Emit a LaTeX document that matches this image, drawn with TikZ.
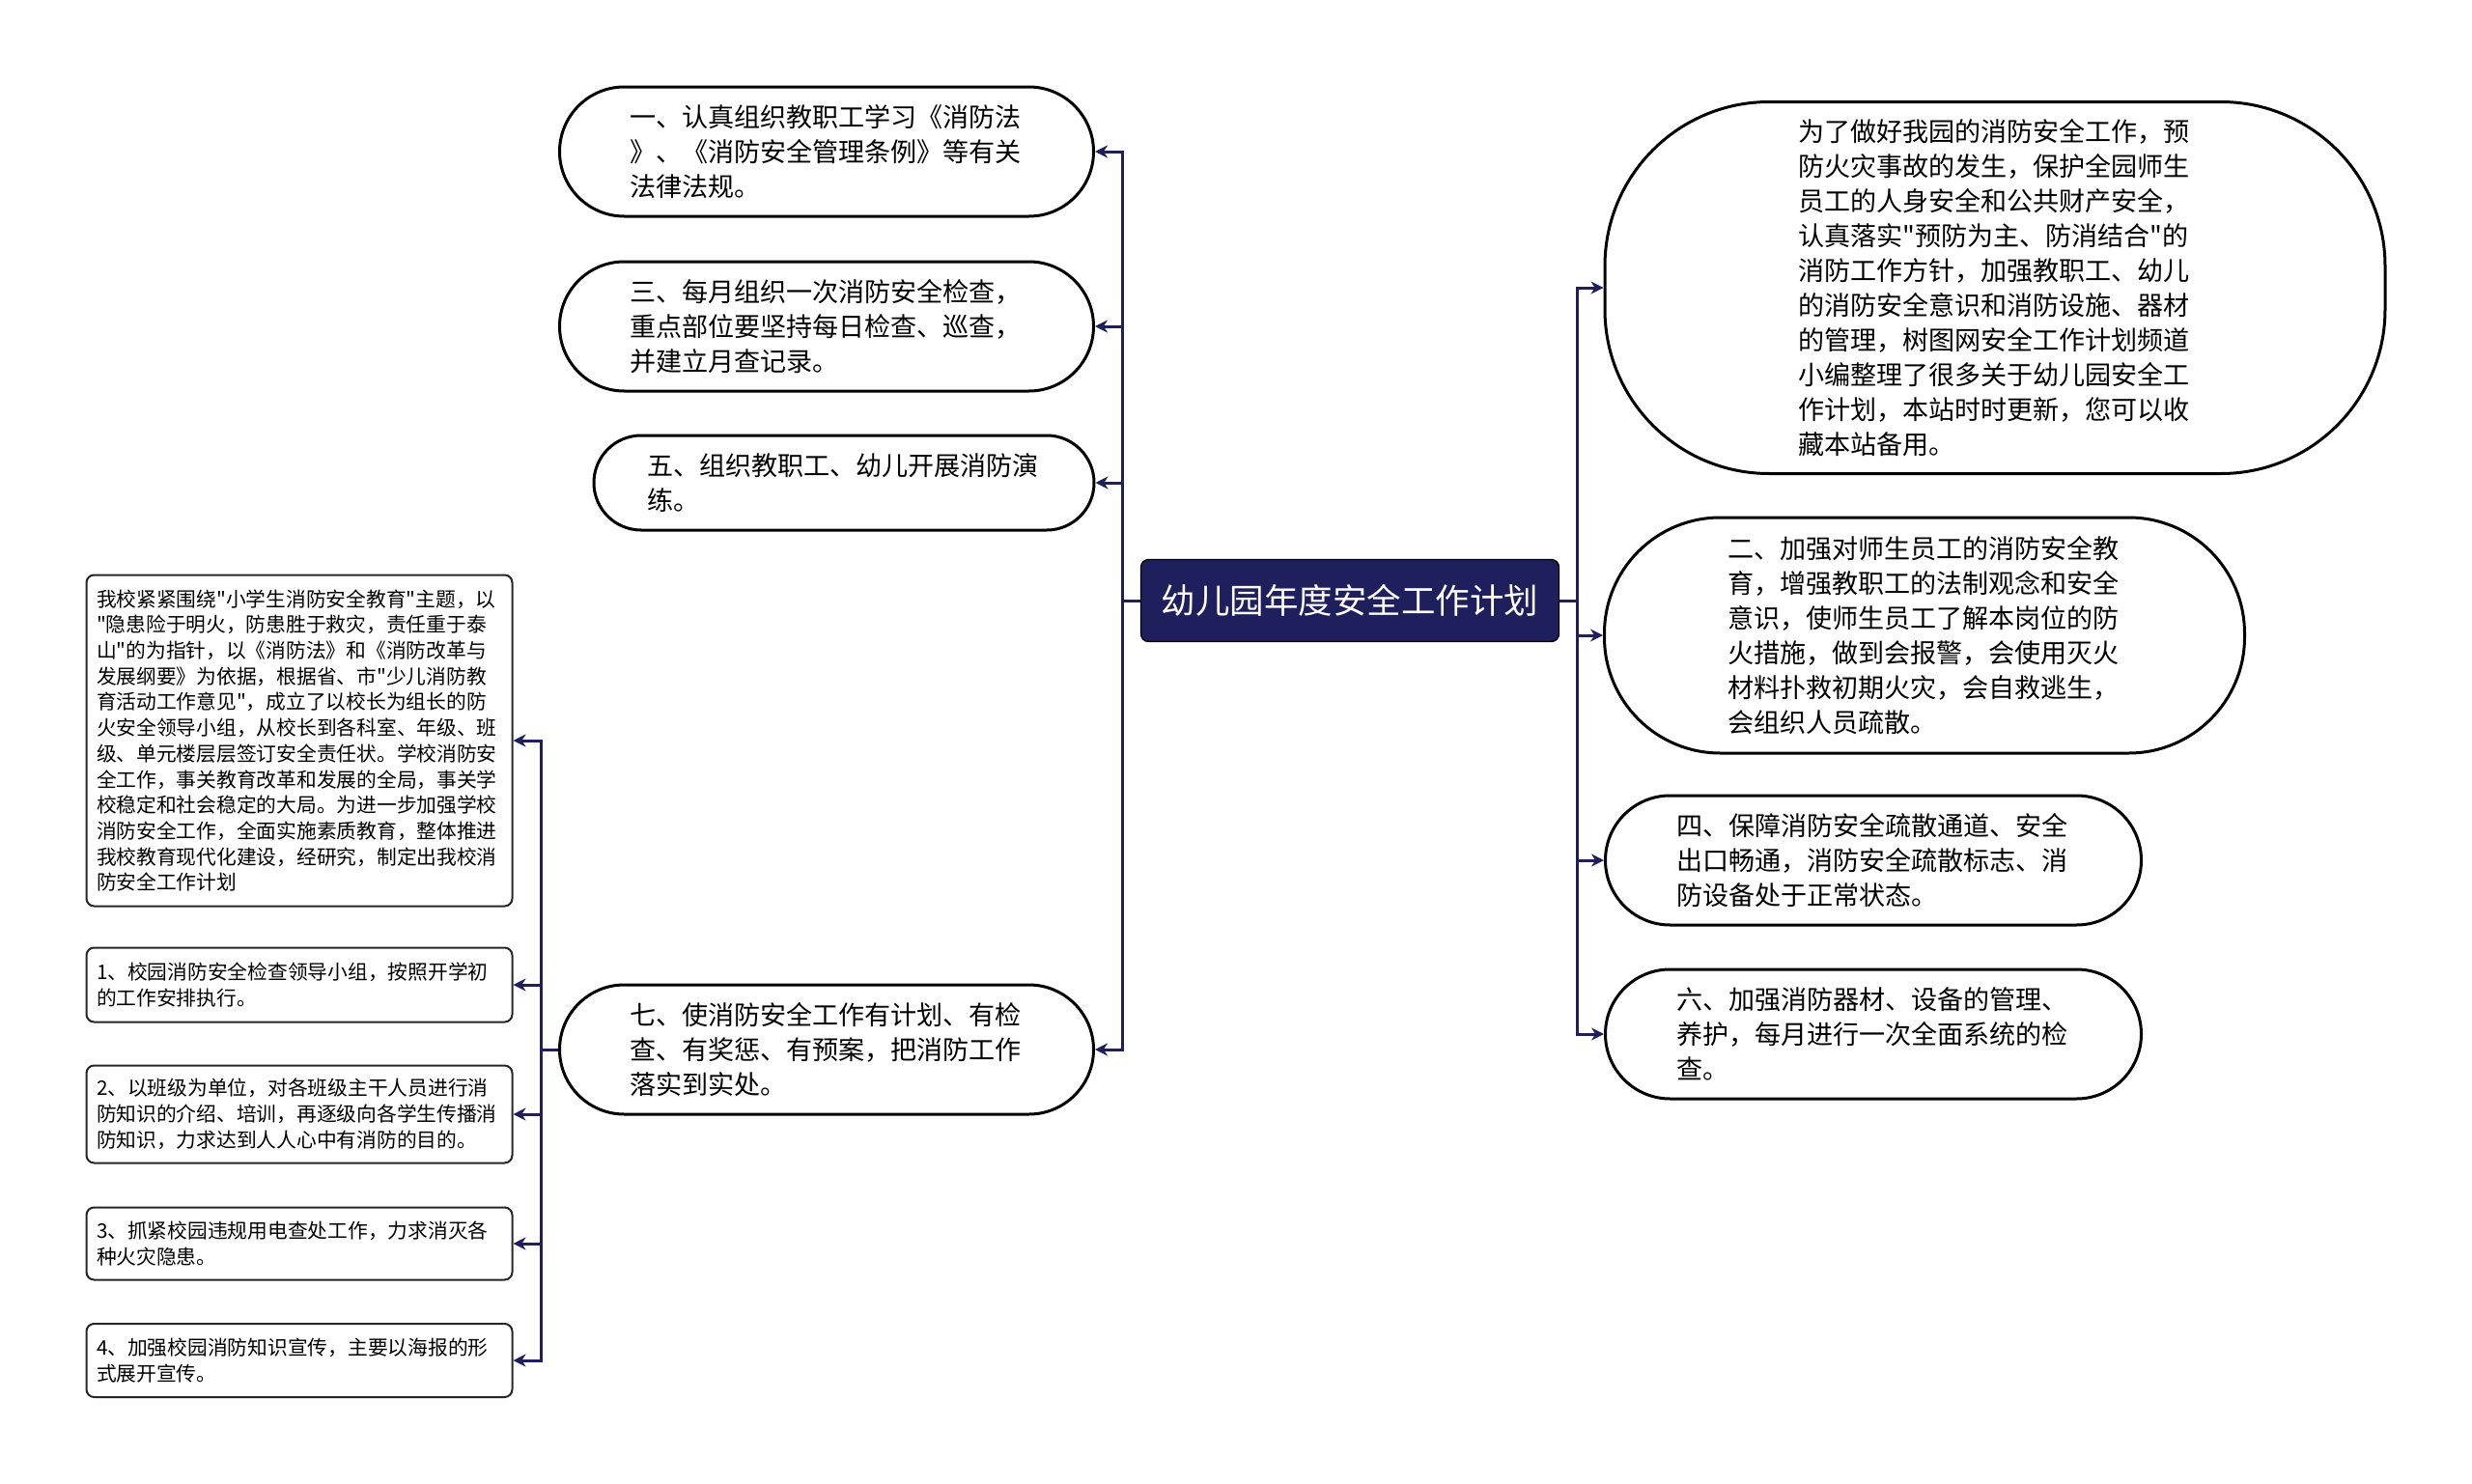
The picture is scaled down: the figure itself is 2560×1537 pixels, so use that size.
\documentclass[tikz,border=0pt]{standalone}
\usepackage{fontspec}
\setmainfont{Noto Sans CJK SC}[Ligatures=TeXOff]
\usetikzlibrary{arrows.meta,positioning}
\definecolor{plannavy}{HTML}{1E1F5C}

\begin{document}
\begin{tikzpicture}[x=0.1mm, y=-0.1mm,
    pill/.style={rectangle, draw=black, line width=0.3mm, fill=white,
        text width=40.8mm, align=left, inner sep=0mm,
        font=\fontsize{7.7pt}{10.24pt}\selectfont},
    note/.style={rectangle, rounded corners=0.8mm, draw=black!85, line width=0.2mm, fill=white,
        text width=42mm, align=left, minimum width=44.1mm, inner xsep=1.05mm, inner ysep=0mm,
        font=\fontsize{5.9pt}{7.6pt}\selectfont},
    link/.style={draw=plannavy, line width=0.3mm, -{Stealth[length=1.3mm,width=1.3mm]}}
]
\useasboundingbox (0,0) rectangle (2560,1537);

% Title
\node[rectangle, rounded corners=0.8mm, draw=black, fill=plannavy, text=white,
    minimum width=43.3mm, minimum height=8.5mm,
    font=\fontsize{10.1pt}{12pt}\selectfont] (plan) at (1398,622) {幼儿园年度安全工作计划};

% Left branch
\node[pill, minimum width=55.3mm, minimum height=13.4mm, rounded corners=6.7mm] (law) at (856,157) {一、认真组织教职工学习《消防法\\》、《消防安全管理条例》等有关\\法律法规。};
\node[pill, minimum width=55.3mm, minimum height=13.4mm, rounded corners=6.7mm] (check) at (856,338) {三、每月组织一次消防安全检查，\\重点部位要坚持每日检查、巡查，\\并建立月查记录。};
\node[pill, minimum width=51.8mm, minimum height=9.8mm, rounded corners=4.9mm] (drill) at (874,500) {五、组织教职工、幼儿开展消防演\\练。};
\node[pill, minimum width=55.3mm, minimum height=13.4mm, rounded corners=6.7mm] (duty) at (856,1087) {七、使消防安全工作有计划、有检\\查、有奖惩、有预案，把消防工作\\落实到实处。};

% Right branch
\node[pill, minimum width=80.8mm, minimum height=38.5mm, rounded corners=17mm] (intro) at (2066,298) {为了做好我园的消防安全工作，预\\防火灾事故的发生，保护全园师生\\员工的人身安全和公共财产安全，\\认真落实"预防为主、防消结合"的\\消防工作方针，加强教职工、幼儿\\的消防安全意识和消防设施、器材\\的管理，树图网安全工作计划频道\\小编整理了很多关于幼儿园安全工\\作计划，本站时时更新，您可以收\\藏本站备用。};
\node[pill, minimum width=66.3mm, minimum height=24.4mm, rounded corners=12mm] (edu) at (1993,658) {二、加强对师生员工的消防安全教\\育，增强教职工的法制观念和安全\\意识，使师生员工了解本岗位的防\\火措施，做到会报警，会使用灭火\\材料扑救初期火灾，会自救逃生，\\会组织人员疏散。};
\node[pill, minimum width=55.5mm, minimum height=13.4mm, rounded corners=6.7mm] (exits) at (1940,891) {四、保障消防安全疏散通道、安全\\出口畅通，消防安全疏散标志、消\\防设备处于正常状态。};
\node[pill, minimum width=55.5mm, minimum height=13.4mm, rounded corners=6.7mm] (gear) at (1940,1071) {六、加强消防器材、设备的管理、\\养护，每月进行一次全面系统的检\\查。};

% Notes under item seven
\node[note, minimum height=34.3mm] (basis) at (310,767) {我校紧紧围绕"小学生消防安全教育"主题，以\\"隐患险于明火，防患胜于救灾，责任重于泰\\山"的为指针，以《消防法》和《消防改革与\\发展纲要》为依据，根据省、市"少儿消防教\\育活动工作意见"，成立了以校长为组长的防\\火安全领导小组，从校长到各科室、年级、班\\级、单元楼层层签订安全责任状。学校消防安\\全工作，事关教育改革和发展的全局，事关学\\校稳定和社会稳定的大局。为进一步加强学校\\消防安全工作，全面实施素质教育，整体推进\\我校教育现代化建设，经研究，制定出我校消\\防安全工作计划};
\node[note, minimum height=7.7mm] (team) at (310,1020) {1、校园消防安全检查领导小组，按照开学初\\的工作安排执行。};
\node[note, minimum height=10.1mm] (classes) at (310,1154) {2、以班级为单位，对各班级主干人员进行消\\防知识的介绍、培训，再逐级向各学生传播消\\防知识，力求达到人人心中有消防的目的。};
\node[note, minimum height=7.5mm] (power) at (310,1288) {3、抓紧校园违规用电查处工作，力求消灭各\\种火灾隐患。};
\node[note, minimum height=7.6mm] (posters) at (310,1409) {4、加强校园消防知识宣传，主要以海报的形\\式展开宣传。};

% Connectors
\foreach \n in {law,check,drill,duty}
    \draw[link] (plan.west) -- ++(-18,0) |- (\n.east);
\foreach \n in {intro,edu,exits,gear}
    \draw[link] (plan.east) -- ++(18,0) |- (\n.west);
\foreach \n in {basis,team,classes,power,posters}
    \draw[link] (duty.west) -- ++(-18,0) |- (\n.east);

\end{tikzpicture}
\end{document}
